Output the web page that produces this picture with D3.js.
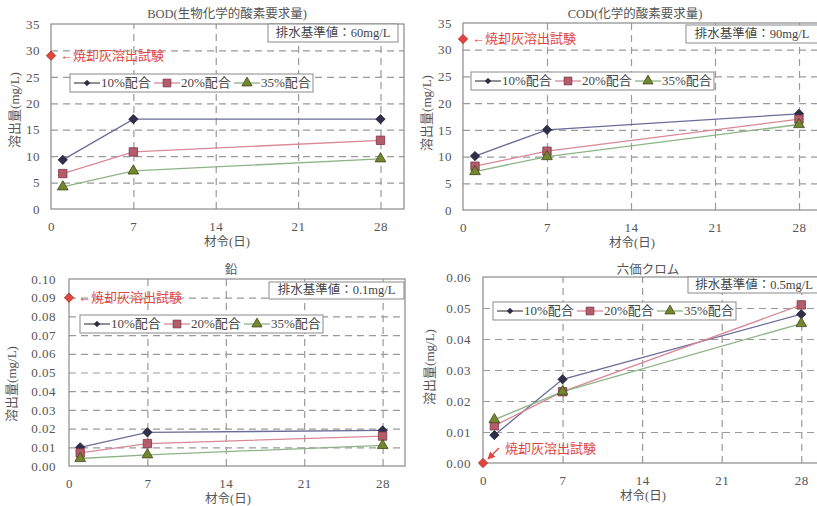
<!DOCTYPE html>
<html><head><meta charset="utf-8">
<script src="https://cdn.jsdelivr.net/npm/d3@7/dist/d3.min.js"></script>
<style>
body{margin:0;background:#fff;}
svg text{font-family:"Liberation Serif","DejaVu Serif","Noto Sans CJK JP",serif;}
</style></head>
<body><svg id="c" width="817" height="506"></svg>
<script>
// ---- data ----
const days = [1, 7, 28];
const xTicks = [0, 7, 14, 21, 28];
const seriesNames = ["10%配合", "20%配合", "35%配合"];
const titles = ["BOD(生物化学的酸素要求量)", "COD(化学的酸素要求量)", "鉛", "六価クロム"];
const standards = ["排水基準値：60mg/L", "排水基準値：90mg/L", "排水基準値：0.1mg/L", "排水基準値：0.5mg/L"];
const ashLabel = "焼却灰溶出試験";
const bod10 = [9.3, 17, 17], bod20 = [6.7, 10.8, 13], bod35 = [4.2, 7.2, 9.5];
const cod10 = [10.1, 15, 18], cod20 = [8.2, 11, 17], cod35 = [7.2, 10, 16];
const pb10 = [0.010, 0.018, 0.019], pb20 = [0.007, 0.012, 0.016], pb35 = [0.004, 0.006, 0.011];
const cr10 = [0.009, 0.027, 0.048], cr20 = [0.012, 0.023, 0.051], cr35 = [0.014, 0.023, 0.045];
const ashValues = [29, 32, 0.09, 0.00];
const yMaxes = [35, 35, 0.10, 0.06];
const yStepCounts = [7, 7, 10, 6];

// ---- layout ----
const panels = [
  {l:51, r:404, t:24, b:209, fmt:d3.format("d"), vals:[bod10,bod20,bod35], pad:11,
   box:[268,24,130,18], leg:[70,74], ylab:[16,110], title:[227,15], xlab:227},
  {l:463, r:823, t:23, b:210, fmt:d3.format("d"), vals:[cod10,cod20,cod35], pad:11,
   box:[686,25,132,18], leg:[471,72], ylab:[428,113], title:[635,15], xlab:632},
  {l:69, r:405, t:279, b:466, fmt:d3.format(".2f"), vals:[pb10,pb20,pb35], pad:13,
   box:[269,282,135,17], leg:[80,315], ylab:[13,384], title:[231,271], xlab:228},
  {l:483, r:824, t:277, b:463, fmt:d3.format(".2f"), vals:[cr10,cr20,cr35], pad:12,
   box:[688,277,132,16], leg:[493,302], ylab:[431,367], title:[648,271], xlab:643}
];
const ashMode = ["left", "left", "left", "arrow"];
const styles = [
  {line:"#6b6d98", fill:"#2e2f4a", stroke:"#1e1e30", shape:d3.symbolDiamond2, size:55, legLine:"#555", legSize:18},
  {line:"#d98896", fill:"#b45c6c", stroke:"#7e3444", shape:d3.symbolSquare, size:70, legLine:"#d98896", legSize:60},
  {line:"#8db486", fill:"#74862e", stroke:"#3c4a1a", shape:d3.symbolTriangle, size:50, legLine:"#8db486", legSize:45}
];
const red = "#e0463f", textCol = "#555", gridCol = "#9a9a9a";

const svg = d3.select("#c");
const defs = svg.append("defs");
defs.append("marker").attr("id","ah").attr("viewBox","0 0 10 10").attr("refX",9).attr("refY",5)
  .attr("markerWidth",6).attr("markerHeight",6).attr("orient","auto")
  .append("path").attr("d","M0,0L10,5L0,10z").attr("fill",red);

panels.forEach((p, i) => {
  const g = svg.append("g");
  const x = d3.scaleLinear().domain([0, 30]).range([p.l, p.r]);
  const y = d3.scaleLinear().domain([0, yMaxes[i]]).range([p.b, p.t]);
  const yt = y.ticks(yStepCounts[i]);

  // grid
  g.append("g").attr("transform", `translate(0,${p.b})`)
    .call(d3.axisBottom(x).tickValues(xTicks.slice(1)).tickSize(-(p.b - p.t)).tickFormat(""))
    .call(a => a.select(".domain").remove())
    .selectAll("line").attr("stroke", gridCol).attr("stroke-dasharray", "7,5").attr("stroke-width", 1.2);
  g.append("g").attr("transform", `translate(${p.l},0)`)
    .call(d3.axisLeft(y).tickValues(yt.slice(1, -1)).tickSize(-(p.r - p.l)).tickFormat(""))
    .call(a => a.select(".domain").remove())
    .selectAll("line").attr("stroke", gridCol).attr("stroke-dasharray", "7,5").attr("stroke-width", 1.2);
  // frame
  g.append("rect").attr("x", p.l).attr("y", p.t).attr("width", p.r - p.l).attr("height", p.b - p.t)
    .attr("fill", "none").attr("stroke", "#8a8a8a").attr("stroke-width", 1.2);

  // tick labels
  g.append("g").attr("transform", `translate(${p.l},0)`)
    .call(d3.axisLeft(y).tickValues(yt).tickSize(0).tickPadding(p.pad).tickFormat(p.fmt))
    .call(a => a.select(".domain").remove())
    .selectAll("text").attr("fill", textCol).style("font-size", "13px").style("letter-spacing", "0.5px");
  g.append("g").attr("transform", `translate(0,${p.b})`)
    .call(d3.axisBottom(x).tickValues(xTicks).tickSize(0).tickPadding(13).tickFormat(d3.format("d")))
    .call(a => a.select(".domain").remove())
    .selectAll("text").attr("fill", textCol).style("font-size", "13px").style("letter-spacing", "0.5px");

  // titles
  g.append("text").attr("x", p.title[0]).attr("y", p.title[1]).attr("text-anchor", "middle")
    .attr("dominant-baseline", "middle").attr("fill", textCol).style("font-size", "12.5px").text(titles[i]);
  g.append("text").attr("x", p.xlab).attr("y", p.b + 37)
    .attr("text-anchor", "middle").attr("fill", textCol).style("font-size", "12.5px").text("材令(日)");
  g.append("text").attr("transform", `translate(${p.ylab[0]},${p.ylab[1]}) rotate(-90)`)
    .attr("text-anchor", "middle").attr("dominant-baseline", "middle").attr("fill", textCol)
    .style("font-size", "13px").text("溶出量(mg/L)");

  // standard box
  g.append("rect").attr("x", p.box[0]).attr("y", p.box[1]).attr("width", p.box[2]).attr("height", p.box[3])
    .attr("fill", "#fff").attr("stroke", "#8a8a8a");
  g.append("text").attr("x", p.box[0] + p.box[2] / 2).attr("y", p.box[1] + p.box[3] / 2 + 1)
    .attr("text-anchor", "middle").attr("dominant-baseline", "middle").attr("fill", "#444")
    .style("font-size", "12.5px").text(standards[i]);

  // series
  p.vals.forEach((vals, s) => {
    const st = styles[s];
    const pts = days.map((d, k) => [x(d), y(vals[k])]);
    g.append("path").attr("d", d3.line()(pts)).attr("fill", "none").attr("stroke", st.line).attr("stroke-width", 1.3);
  });
  p.vals.forEach((vals, s) => {
    const st = styles[s];
    g.selectAll(null).data(days.map((d, k) => [d, vals[k]])).join("path")
      .attr("transform", d => `translate(${x(d[0])},${y(d[1])})`)
      .attr("d", d3.symbol().type(st.shape).size(st.size))
      .attr("fill", st.fill).attr("stroke", st.stroke).attr("stroke-width", 0.8);
  });

  // ash test marker
  const ax = x(0), ay = y(ashValues[i]);
  g.append("path").attr("transform", `translate(${ax},${ay})`)
    .attr("d", d3.symbol().type(d3.symbolDiamond2).size(55)).attr("fill", red).attr("stroke", "#b02a24").attr("stroke-width", 0.8);
  if (ashMode[i] === "left") {
    g.append("text").attr("x", ax + 9).attr("y", ay + 1).attr("dominant-baseline", "middle")
      .attr("fill", red).style("font-size", "13px").text("←" + ashLabel);
  } else {
    g.append("line").attr("x1", ax + 16).attr("y1", ay - 15).attr("x2", ax + 5).attr("y2", ay - 4)
      .attr("stroke", red).attr("stroke-width", 1.3).attr("marker-end", "url(#ah)");
    g.append("text").attr("x", ax + 22).attr("y", ay - 13).attr("dominant-baseline", "middle")
      .attr("fill", red).style("font-size", "13px").text(ashLabel);
  }

  // legend
  const lg = g.append("g").attr("transform", `translate(${p.leg[0]},${p.leg[1]})`);
  lg.append("rect").attr("width", 243).attr("height", 18).attr("fill", "#fff").attr("stroke", "#8a8a8a");
  seriesNames.forEach((nm, s) => {
    const st = styles[s], ox = 4 + s * 80;
    lg.append("line").attr("x1", ox).attr("x2", ox + 26).attr("y1", 9).attr("y2", 9).attr("stroke", st.legLine).attr("stroke-width", 1.3);
    lg.append("path").attr("transform", `translate(${ox + 13},9)`)
      .attr("d", d3.symbol().type(st.shape).size(st.legSize)).attr("fill", st.fill).attr("stroke", st.stroke).attr("stroke-width", 0.8);
    lg.append("text").attr("x", ox + 27).attr("y", 10).attr("dominant-baseline", "middle")
      .attr("fill", "#444").style("font-size", "13px").text(nm);
  });
});
</script></body></html>
